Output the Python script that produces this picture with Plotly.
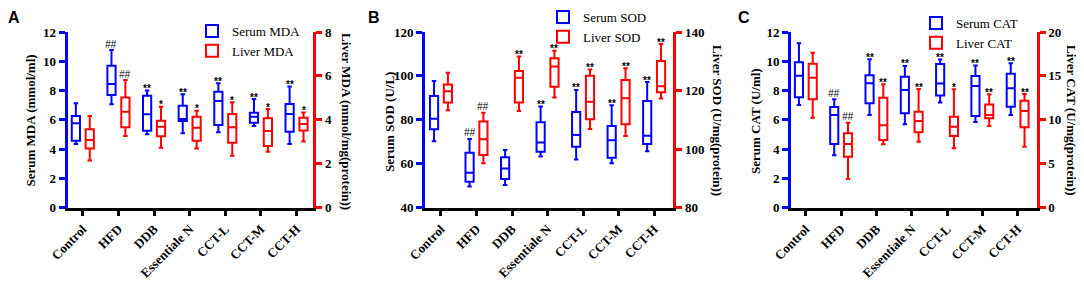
import plotly.graph_objects as go

categories = ["Control", "HFD", "DDB", "Essentiale N", "CCT-L", "CCT-M", "CCT-H"]

# ---------- Panel A : MDA ----------
mda_serum_min = [4.35, 7.06, 5.01, 5.08, 5.15, 5.58, 4.35]
mda_serum_q1 = [4.58, 7.70, 5.26, 5.92, 5.65, 5.81, 5.19]
mda_serum_med = [5.76, 8.45, 6.38, 6.06, 7.29, 6.22, 6.40]
mda_serum_q3 = [6.26, 9.70, 7.65, 6.97, 7.92, 6.49, 7.08]
mda_serum_max = [7.13, 10.77, 8.00, 7.75, 8.50, 7.42, 8.27]
mda_serum_sig = ["", "##", "**", "**", "**", "**", "**"]

mda_liver_min = [2.15, 3.26, 2.73, 2.70, 2.37, 2.55, 3.01]
mda_liver_q1 = [2.69, 3.66, 3.25, 3.05, 2.96, 2.81, 3.51]
mda_liver_med = [3.08, 4.37, 3.69, 3.64, 3.66, 3.49, 3.81]
mda_liver_q3 = [3.57, 5.02, 3.96, 4.14, 4.27, 4.07, 4.10]
mda_liver_max = [4.17, 5.81, 4.60, 4.42, 4.80, 4.49, 4.34]
mda_liver_sig = ["", "##", "*", "*", "*", "*", "*"]

# ---------- Panel B : SOD ----------
sod_serum_min = [70.3, 49.6, 50.3, 63.3, 62.0, 60.2, 65.7]
sod_serum_q1 = [75.7, 51.8, 53.1, 65.5, 67.8, 62.8, 69.0]
sod_serum_med = [80.5, 55.9, 57.9, 69.7, 73.1, 70.7, 72.8]
sod_serum_q3 = [90.9, 65.0, 63.0, 78.9, 83.6, 77.2, 88.6]
sod_serum_max = [97.7, 71.3, 66.3, 86.1, 93.6, 86.6, 97.2]
sod_serum_sig = ["", "##", "", "**", "**", "**", "**"]

sod_liver_min = [113.3, 95.2, 113.0, 117.6, 106.9, 104.5, 117.3]
sod_liver_q1 = [115.9, 98.0, 115.9, 121.3, 110.2, 108.5, 119.4]
sod_liver_med = [119.8, 103.4, 124.4, 128.2, 116.2, 117.4, 121.5]
sod_liver_q3 = [122.1, 109.4, 126.7, 131.0, 125.1, 123.6, 130.1]
sod_liver_max = [126.1, 112.4, 131.6, 133.6, 127.2, 127.6, 135.9]
sod_liver_sig = ["", "##", "**", "**", "**", "**", "**"]

# ---------- Panel C : CAT ----------
cat_serum_min = [7.02, 3.58, 6.33, 5.70, 7.19, 5.85, 6.33]
cat_serum_q1 = [7.54, 4.35, 7.13, 6.45, 7.67, 6.26, 6.90]
cat_serum_med = [9.02, 6.33, 8.50, 8.04, 8.49, 8.31, 8.15]
cat_serum_q3 = [9.93, 6.88, 9.04, 8.95, 9.81, 8.99, 9.15]
cat_serum_max = [11.23, 7.40, 10.14, 9.68, 10.13, 9.72, 9.86]
cat_serum_sig = ["", "##", "**", "**", "**", "**", "**"]

cat_liver_min = [10.25, 3.27, 7.22, 7.51, 6.76, 9.30, 6.95]
cat_liver_q1 = [12.34, 5.81, 7.71, 8.58, 8.16, 10.17, 9.15]
cat_liver_med = [14.80, 7.25, 9.38, 9.87, 9.22, 10.55, 11.01]
cat_liver_q3 = [16.39, 8.47, 12.52, 10.93, 10.36, 11.76, 12.18]
cat_liver_max = [17.65, 9.68, 14.05, 13.51, 13.47, 12.90, 12.94]
cat_liver_sig = ["", "##", "**", "**", "*", "**", "**"]

# ---------- styling ----------
# the page body has an 8px default margin, so the figure is drawn 8px in from the window corner
OX, OY = 8, 8
W, H = 1076, 274
BLUE = "#0000FF"
RED = "#FF0000"
SERIF = "Liberation Serif"
SANS = "Liberation Sans"
BOX_W = 0.23
OFFSET = 0.195


def px_x(px):
    return (px - OX) / W


def px_y(py):
    return 1 - (py - OY) / H


Y_DOM = [px_y(207.7), px_y(32)]

panels = [
    dict(letter="A", letter_x=14, xpx=(67.5, 313.3), xrange=[-0.43, 6.47],
         left=dict(range=[0, 12], dtick=2, title="Serum MDA (mmol/ml)", tpx=(29.5, 121)),
         right=dict(range=[0, 8], dtick=2, title="Liver MDA (mmol/mg(protein))", tpx=(347, 121)),
         serum=("Serum MDA", mda_serum_min, mda_serum_q1, mda_serum_med, mda_serum_q3, mda_serum_max, mda_serum_sig),
         liver=("Liver MDA", mda_liver_min, mda_liver_q1, mda_liver_med, mda_liver_q3, mda_liver_max, mda_liver_sig),
         legend_px=(192, 16)),
    dict(letter="B", letter_x=374, xpx=(425, 673.3), xrange=[-0.45, 6.54],
         left=dict(range=[40, 120], dtick=20, title="Serum SOD (U/L)", tpx=(389, 122)),
         right=dict(range=[80, 140], dtick=20, title="Liver SOD (U/mg(protein))", tpx=(717, 120)),
         serum=("Serum SOD", sod_serum_min, sod_serum_q1, sod_serum_med, sod_serum_q3, sod_serum_max, sod_serum_sig),
         liver=("Liver SOD", sod_liver_min, sod_liver_q1, sod_liver_med, sod_liver_q3, sod_liver_max, sod_liver_sig),
         legend_px=(543, 2)),
    dict(letter="C", letter_x=744, xpx=(791, 1036.7), xrange=[-0.42, 6.54],
         left=dict(range=[0, 12], dtick=2, title="Serum CAT (U/ml)", tpx=(755, 121)),
         right=dict(range=[0, 20], dtick=5, title="Liver CAT (U/mg(protein))", tpx=(1071, 120)),
         serum=("Serum CAT", cat_serum_min, cat_serum_q1, cat_serum_med, cat_serum_q3, cat_serum_max, cat_serum_sig),
         liver=("Liver CAT", cat_liver_min, cat_liver_q1, cat_liver_med, cat_liver_q3, cat_liver_max, cat_liver_sig),
         legend_px=(916, 8)),
]

fig = go.Figure()
annotations = []
layout = {}

for k, p in enumerate(panels):
    xid = "x" if k == 0 else f"x{k + 1}"
    yl = "y" if k == 0 else f"y{2 * k + 1}"
    yr = f"y{2 * k + 2}"
    leg = "legend" if k == 0 else f"legend{k + 1}"
    idx = list(range(len(categories)))

    for series, color, yid, off in ((p["serum"], BLUE, yl, -OFFSET), (p["liver"], RED, yr, OFFSET)):
        name, mn, q1, med, q3, mx, sig = series
        pos = [i + off for i in idx]
        fig.add_trace(go.Box(
            name=name, x=pos, lowerfence=mn, q1=q1, median=med, q3=q3, upperfence=mx,
            xaxis=xid, yaxis=yid, legend=leg, boxpoints=False,
            line=dict(color=color, width=2), marker=dict(color=color),
            fillcolor="rgba(255,255,255,0)", width=BOX_W, whiskerwidth=0.55,
            hoverinfo="skip", showlegend=True,
        ))
        for xp, top, s in zip(pos, mx, sig):
            if s:
                annotations.append(dict(
                    x=xp, y=top, xref=xid, yref=yid, text=s, showarrow=False,
                    yanchor="middle", xanchor="center",
                    yshift=6 if s.startswith("#") else 2,
                    font=dict(family=SANS, size=10, color="black",
                              weight="bold" if s.startswith("*") else "normal",
                              style="italic" if s.startswith("#") else "normal"),
                ))

    xdom = [px_x(p["xpx"][0]), px_x(p["xpx"][1])]
    ax_x = dict(
        domain=xdom, range=p["xrange"], anchor=yl,
        tickmode="array", tickvals=idx, ticktext=categories, tickangle=-45,
        showline=True, linecolor="black", linewidth=2.5,
        ticks="outside", ticklen=6, tickwidth=2.5, tickcolor="black",
        showgrid=False, zeroline=False, automargin=False,
        tickfont=dict(family=SERIF, size=13, color="black", weight="bold"),
    )
    ax_l = dict(
        domain=Y_DOM, range=p["left"]["range"], dtick=p["left"]["dtick"], tick0=p["left"]["range"][0],
        anchor=xid, showline=True, linecolor=BLUE, linewidth=3,
        ticks="outside", ticklen=6, tickwidth=2.5, tickcolor=BLUE,
        showgrid=False, zeroline=False, automargin=False,
        tickfont=dict(family=SERIF, size=13, color="black", weight="bold"),
    )
    ax_r = dict(
        domain=Y_DOM, range=p["right"]["range"], dtick=p["right"]["dtick"], tick0=p["right"]["range"][0],
        anchor=xid, overlaying=yl, side="right", showline=True, linecolor=RED, linewidth=3,
        ticks="outside", ticklen=6, tickwidth=2.5, tickcolor=RED,
        showgrid=False, zeroline=False, automargin=False,
        tickfont=dict(family=SERIF, size=13, color="black", weight="bold"),
    )
    layout["xaxis" if k == 0 else f"xaxis{k + 1}"] = ax_x
    layout["yaxis" if k == 0 else f"yaxis{2 * k + 1}"] = ax_l
    layout[f"yaxis{2 * k + 2}"] = ax_r

    layout[leg] = dict(
        x=px_x(p["legend_px"][0]), y=px_y(p["legend_px"][1]), xanchor="left", yanchor="top",
        bgcolor="rgba(0,0,0,0)", borderwidth=0, tracegroupgap=0,
        font=dict(family=SERIF, size=13, color="black"),
    )

    # axis titles
    for side, ang in (("left", -90), ("right", 90)):
        tx, ty = p[side]["tpx"]
        annotations.append(dict(
            x=px_x(tx), y=px_y(ty), xref="paper", yref="paper", text=p[side]["title"],
            showarrow=False, textangle=ang, xanchor="center", yanchor="middle",
            font=dict(family=SERIF, size=13, color="black", weight="bold"),
        ))
    # panel letter (anchored to the top edge of the figure so it is never clipped)
    annotations.append(dict(
        x=px_x(p["letter_x"]), y=1, xref="paper", yref="paper", text=p["letter"],
        showarrow=False, xanchor="center", yanchor="top", borderpad=0,
        font=dict(family=SANS, size=16, color="black", weight="bold"),
    ))

fig.update_layout(
    width=W, height=H, template="none",
    margin=dict(l=0, r=0, t=0, b=0, autoexpand=False),
    paper_bgcolor="white", plot_bgcolor="rgba(0,0,0,0)",
    font=dict(family=SERIF, color="black"),
    annotations=annotations,
    **layout,
)

fig.write_html("out.html")
